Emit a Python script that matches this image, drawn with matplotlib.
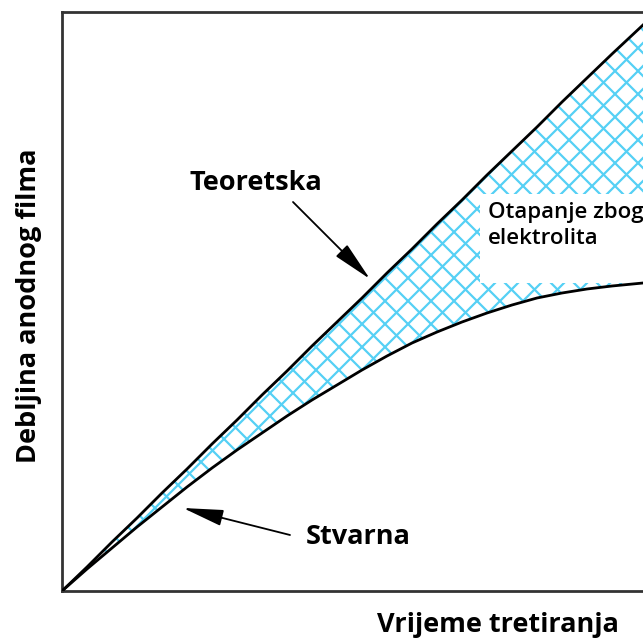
import numpy as np
import matplotlib
matplotlib.use("Agg")
from matplotlib import pyplot as plt
from matplotlib.patches import Rectangle

plt.rcParams['font.family'] = ['Open Sans', 'DejaVu Sans']

# curves (arbitrary units)
time = [0, 25, 50, 75, 100, 125, 150, 175, 200, 225, 250, 275, 300,
        325, 350, 375, 400, 425, 450, 475, 500, 525, 550, 581]
theoretical = [0, 24, 49, 73, 98, 122, 147, 171, 196, 220, 245, 269, 293,
               318, 342, 367, 391, 416, 440, 464, 489, 513, 537, 566]
actual = [0, 22, 43, 64, 84, 104, 123, 141, 158, 175, 191, 206, 221,
          235, 248, 259, 269, 278, 286, 293, 298, 302, 305, 308]

x_label = "Vrijeme tretiranja"
y_label = "Debljina anodnog filma"
note_lines = ["Otapanje zbog", "elektrolita"]

fig = plt.figure(figsize=(6.43, 6.40), dpi=100)
ax = fig.add_axes([62 / 643, 49 / 640, 581 / 643, 579 / 640])
ax.set_xlim(0, 581)
ax.set_ylim(0, 579)

# region between the curves, cross hatched by hand (finer than the built-in hatch)
hatch_color = "#55d0f5"
region = ax.fill_between(time, actual, theoretical, facecolor="none", edgecolor="none", zorder=1)
clip = region.get_paths()[0]
step = 23
xs = np.array([-50, 650])
for c in np.arange(-700, 700, step):
    for ys in (xs + c, -xs + c + 600):
        ln, = ax.plot(xs, ys, color=hatch_color, lw=1.6, zorder=1)
        ln.set_clip_path(clip, ax.transData)

# white box behind the annotation
ax.add_patch(Rectangle((418, 308), 170, 89, facecolor="white", edgecolor="none", zorder=2))

ax.plot(time, theoretical, color="black", lw=2, zorder=3)
ax.plot(time, actual, color="black", lw=2, zorder=3)

ax.text(426, 373, note_lines[0], fontsize=16, fontweight="semibold",
        va="baseline", ha="left", zorder=4)
ax.text(426, 347, note_lines[1], fontsize=16, fontweight="semibold",
        va="baseline", ha="left", zorder=4)

arrow = dict(arrowstyle="-|>,head_length=1.25,head_width=0.25", color="black", lw=1.3,
             mutation_scale=20, shrinkA=0, shrinkB=0)
ax.annotate("", xy=(308, 312), xytext=(231, 389), arrowprops=arrow)
ax.annotate("", xy=(121, 83), xytext=(228, 56), arrowprops=arrow)
ax.text(194, 401, "Teoretska", fontsize=19.5, fontweight="bold", ha="center", va="baseline")
ax.text(296, 47, "Stvarna", fontsize=19.5, fontweight="bold", ha="center", va="baseline")

ax.set_xticks([])
ax.set_yticks([])
ax.spines['right'].set_visible(False)
for s in ['left', 'top', 'bottom']:
    ax.spines[s].set_linewidth(2)
    ax.spines[s].set_color("#333333")

fig.text(498 / 643, 8 / 640, x_label, fontsize=19.5, fontweight="bold",
         ha="center", va="baseline")
fig.text(36 / 643, 1 - 306 / 640, y_label, fontsize=19.5, fontweight="bold",
         ha="center", va="baseline", rotation=90, rotation_mode="anchor")

fig.savefig("out.png", dpi=100)
